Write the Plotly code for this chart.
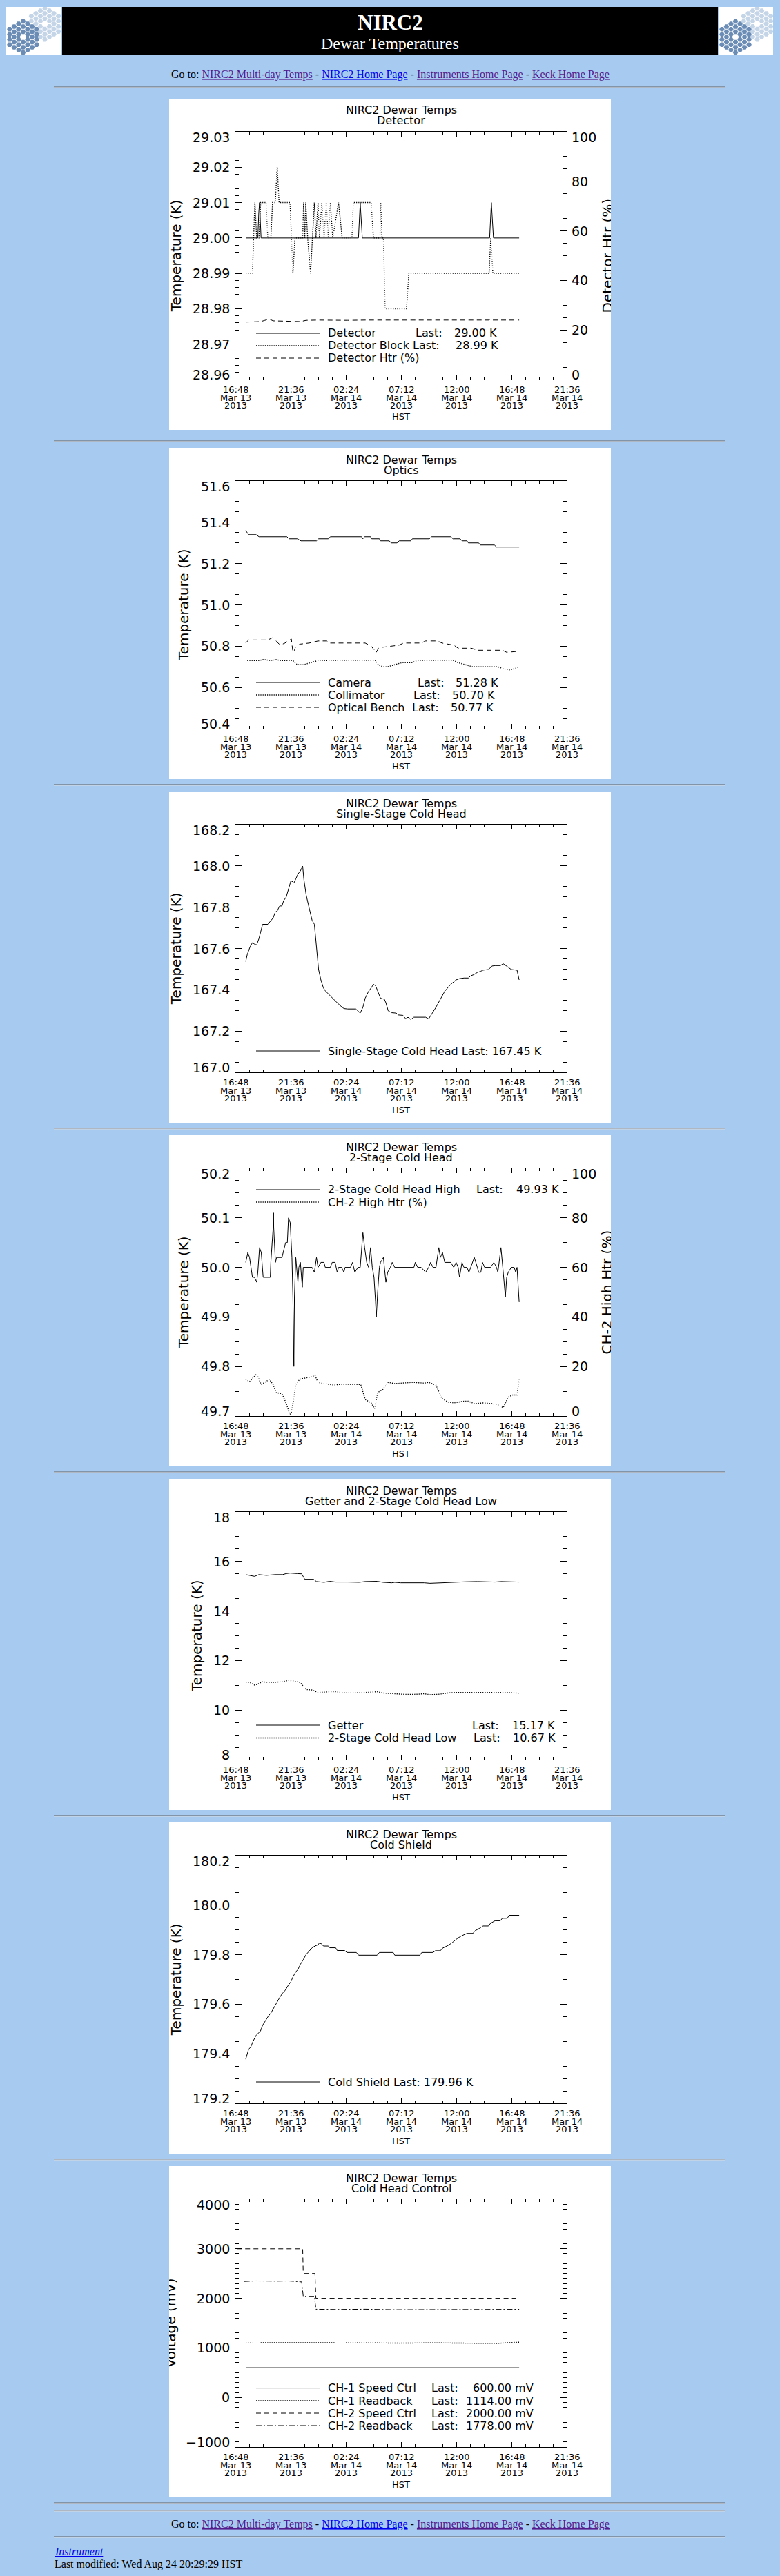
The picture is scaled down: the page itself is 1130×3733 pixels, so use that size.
import plotly.graph_objects as go

# page size in pixels and colours
W, H = 1130, 3733
BG = "#A6CAF0"
SANS = "DejaVu Sans"
SERIF = "Liberation Serif"
PURPLE, BLUE = "#551A8B", "#0000EE"
SOLID, DOT, DASH, DASHDOT = "solid", "1.2px,2px", "7px,5px", "8px,3px,2px,3px"

# shared time axis (HST)
X_START, X_END = "2013-03-13 16:48", "2013-03-14 21:36"
x_tick_vals = ["2013-03-13 16:48", "2013-03-13 21:36", "2013-03-14 02:24", "2013-03-14 07:12",
               "2013-03-14 12:00", "2013-03-14 16:48", "2013-03-14 21:36"]
x_tick_time = ["16:48", "21:36", "02:24", "07:12", "12:00", "16:48", "21:36"]
x_tick_day = ["Mar 13", "Mar 13", "Mar 14", "Mar 14", "Mar 14", "Mar 14", "Mar 14"]
x_tick_year = ["2013"] * 7

# ---------------- Detector ----------------
y1_ticks = [28.96, 28.97, 28.98, 28.99, 29.00, 29.01, 29.02, 29.03]
htr_ticks = [0, 20, 40, 60, 80, 100]
detector = [("13 17:42", 29.000), ("13 18:45", 29.000), ("13 18:50", 29.007), ("13 18:54", 29.010),
            ("13 19:02", 29.000), ("14 03:30", 29.000), ("14 03:39", 29.010), ("14 03:50", 29.000),
            ("14 14:54", 29.000), ("14 15:03", 29.010), ("14 15:14", 29.000), ("14 17:28", 29.000)]
detector_block = [("13 17:42", 28.99), ("13 18:17", 28.99), ("13 18:23", 29.00), ("13 18:30", 29.01),
                  ("13 18:39", 29.00), ("13 18:51", 29.00), ("13 19:00", 29.01), ("13 19:28", 29.01),
                  ("13 19:37", 29.00), ("13 19:53", 29.00), ("13 20:02", 29.01), ("13 20:16", 29.01),
                  ("13 20:26", 29.02), ("13 20:36", 29.01), ("13 21:33", 29.01), ("13 21:48", 28.99),
                  ("13 21:59", 29.00), ("13 22:39", 29.00), ("13 22:44", 29.01), ("13 22:50", 29.00),
                  ("13 22:55", 29.01), ("13 23:05", 29.00), ("13 23:20", 28.99), ("13 23:31", 29.00),
                  ("13 23:40", 29.01), ("13 23:48", 29.00), ("13 23:59", 29.01), ("14 00:06", 29.00),
                  ("14 00:19", 29.01), ("14 00:30", 29.00), ("14 00:42", 29.01), ("14 00:53", 29.00),
                  ("14 01:03", 29.01), ("14 01:16", 29.00), ("14 01:46", 29.01), ("14 02:05", 29.00),
                  ("14 02:56", 29.00), ("14 03:03", 29.01), ("14 04:36", 29.01), ("14 04:48", 29.00),
                  ("14 05:22", 29.00), ("14 05:26", 29.01), ("14 05:33", 29.00), ("14 05:40", 29.00),
                  ("14 05:49", 28.98), ("14 07:40", 28.98), ("14 07:53", 28.99), ("14 14:51", 28.99),
                  ("14 15:00", 29.00), ("14 15:11", 28.99), ("14 17:28", 28.99)]
detector_htr = [("13 17:42", 23.2), ("13 19:00", 23.4), ("13 19:22", 23.9), ("13 19:45", 24.4),
                ("13 20:05", 23.7), ("13 20:54", 23.6), ("13 21:48", 23.3), ("13 22:27", 23.4),
                ("13 22:57", 23.9), ("13 23:59", 24.0), ("14 02:33", 23.9), ("14 03:34", 24.1),
                ("14 04:05", 24.0), ("14 14:51", 24.0), ("14 15:00", 24.4), ("14 15:11", 24.0),
                ("14 17:28", 24.0)]

# ---------------- Optics ----------------
y2_ticks = [50.4, 50.6, 50.8, 51.0, 51.2, 51.4, 51.6]
camera = [("13 17:42", 51.36), ("13 17:57", 51.34), ("13 18:36", 51.34), ("13 18:51", 51.33),
          ("13 21:17", 51.33), ("13 21:28", 51.32), ("13 22:11", 51.32), ("13 22:30", 51.31),
          ("13 23:51", 51.31), ("14 00:02", 51.32), ("14 00:53", 51.32), ("14 01:03", 51.33),
          ("14 03:46", 51.33), ("14 03:53", 51.32), ("14 04:02", 51.33), ("14 04:33", 51.33),
          ("14 04:39", 51.32), ("14 05:19", 51.32), ("14 05:25", 51.31), ("14 06:11", 51.31),
          ("14 06:20", 51.30), ("14 06:51", 51.30), ("14 07:02", 51.31), ("14 08:03", 51.31),
          ("14 08:11", 51.32), ("14 09:40", 51.32), ("14 09:51", 51.33), ("14 11:31", 51.33),
          ("14 11:43", 51.32), ("14 12:20", 51.32), ("14 12:30", 51.31), ("14 12:56", 51.31),
          ("14 13:03", 51.30), ("14 13:57", 51.30), ("14 14:05", 51.29), ("14 15:19", 51.29),
          ("14 15:30", 51.28), ("14 17:28", 51.28)]
collimator = [("13 17:50", 50.73), ("13 18:51", 50.73), ("13 19:14", 50.735), ("13 19:53", 50.73),
              ("13 20:23", 50.735), ("13 20:39", 50.73), ("13 21:48", 50.73), ("13 22:11", 50.71),
              ("13 22:42", 50.71), ("13 23:20", 50.72), ("13 23:59", 50.73), ("14 04:59", 50.73),
              ("14 05:14", 50.71), ("14 05:37", 50.70), ("14 06:00", 50.70), ("14 06:39", 50.71),
              ("14 07:17", 50.72), ("14 08:11", 50.72), ("14 08:34", 50.73), ("14 11:47", 50.73),
              ("14 12:10", 50.72), ("14 12:48", 50.71), ("14 13:27", 50.70), ("14 15:37", 50.70),
              ("14 16:08", 50.69), ("14 16:39", 50.685), ("14 17:02", 50.69), ("14 17:28", 50.70)]
optical_bench = [("13 17:42", 50.815), ("13 17:57", 50.83), ("13 18:43", 50.83), ("13 19:07", 50.83),
                 ("13 19:37", 50.83), ("13 20:00", 50.84), ("13 20:16", 50.83), ("13 20:36", 50.81),
                 ("13 20:54", 50.81), ("13 21:07", 50.815), ("13 21:40", 50.835), ("13 21:48", 50.77),
                 ("13 21:56", 50.78), ("13 22:03", 50.80), ("13 22:27", 50.81), ("13 23:13", 50.815),
                 ("13 23:59", 50.825), ("14 00:45", 50.825), ("14 01:00", 50.815), ("14 04:05", 50.815),
                 ("14 04:36", 50.80), ("14 05:03", 50.77), ("14 05:14", 50.79), ("14 05:37", 50.795),
                 ("14 07:02", 50.805), ("14 07:25", 50.815), ("14 08:57", 50.815), ("14 09:20", 50.825),
                 ("14 10:22", 50.825), ("14 10:45", 50.815), ("14 11:23", 50.81), ("14 11:47", 50.805),
                 ("14 12:10", 50.79), ("14 13:19", 50.79), ("14 13:50", 50.78), ("14 16:00", 50.78),
                 ("14 16:23", 50.77), ("14 17:28", 50.775)]

# ---------------- Single-Stage Cold Head ----------------
y3_ticks = [167.0, 167.2, 167.4, 167.6, 167.8, 168.0, 168.2]
single_stage = [("13 17:42", 167.537), ("13 17:50", 167.571), ("13 18:05", 167.609), ("13 18:17", 167.628),
                ("13 18:28", 167.621), ("13 18:39", 167.617), ("13 18:51", 167.648), ("13 19:10", 167.717),
                ("13 19:37", 167.717), ("13 20:05", 167.748), ("13 20:16", 167.776), ("13 20:26", 167.782),
                ("13 20:39", 167.806), ("13 20:51", 167.806), ("13 21:00", 167.832), ("13 21:13", 167.849),
                ("13 21:25", 167.887), ("13 21:37", 167.926), ("13 21:43", 167.926), ("13 21:53", 167.917),
                ("13 22:03", 167.937), ("13 22:14", 167.960), ("13 22:27", 167.976), ("13 22:39", 167.999),
                ("13 22:45", 167.937), ("13 22:57", 167.860), ("13 23:08", 167.815), ("13 23:19", 167.771),
                ("13 23:28", 167.737), ("13 23:40", 167.717), ("13 23:47", 167.648), ("13 23:54", 167.559),
                ("14 00:02", 167.498), ("14 00:14", 167.448), ("14 00:27", 167.409), ("14 00:37", 167.395),
                ("14 00:57", 167.376), ("14 01:16", 167.357), ("14 01:39", 167.337), ("14 01:59", 167.320),
                ("14 02:14", 167.309), ("14 02:33", 167.307), ("14 03:16", 167.307), ("14 03:39", 167.287),
                ("14 03:53", 167.315), ("14 04:05", 167.359), ("14 04:23", 167.393), ("14 04:36", 167.409),
                ("14 04:48", 167.426), ("14 04:59", 167.420), ("14 05:10", 167.393), ("14 05:25", 167.359),
                ("14 05:45", 167.354), ("14 05:53", 167.337), ("14 06:05", 167.298), ("14 06:23", 167.289),
                ("14 06:47", 167.287), ("14 06:57", 167.278), ("14 07:22", 167.276), ("14 07:37", 167.259),
                ("14 07:48", 167.267), ("14 08:03", 167.256), ("14 08:19", 167.267), ("14 09:20", 167.267),
                ("14 09:36", 167.259), ("14 09:51", 167.281), ("14 10:14", 167.315), ("14 10:37", 167.354),
                ("14 11:00", 167.393), ("14 11:31", 167.426), ("14 11:59", 167.448), ("14 12:17", 167.454),
                ("14 12:40", 167.457), ("14 13:03", 167.457), ("14 13:16", 167.468), ("14 13:31", 167.473),
                ("14 13:50", 167.484), ("14 14:08", 167.490), ("14 14:20", 167.495), ("14 14:48", 167.498),
                ("14 15:07", 167.515), ("14 15:22", 167.517), ("14 15:50", 167.517), ("14 16:05", 167.526),
                ("14 16:16", 167.520), ("14 16:31", 167.509), ("14 16:47", 167.498), ("14 17:17", 167.495),
                ("14 17:28", 167.448)]

# ---------------- 2-Stage Cold Head ----------------
y4_ticks = [49.7, 49.8, 49.9, 50.0, 50.1, 50.2]
ch2_high = [("13 17:42", 50.01), ("13 17:53", 50.03), ("13 18:02", 50.02), ("13 18:17", 49.98),
            ("13 18:28", 49.98), ("13 18:39", 49.97), ("13 18:45", 49.99), ("13 18:54", 50.04),
            ("13 19:03", 50.03), ("13 19:13", 49.98), ("13 19:50", 49.98), ("13 19:53", 50.01),
            ("13 20:05", 50.08), ("13 20:07", 50.11), ("13 20:08", 50.08), ("13 20:17", 50.01),
            ("13 20:23", 50.02), ("13 20:51", 50.02), ("13 21:10", 50.05), ("13 21:19", 50.05),
            ("13 21:25", 50.10), ("13 21:34", 50.09), ("13 21:43", 50.02), ("13 21:48", 49.94),
            ("13 21:53", 49.80), ("13 21:56", 49.94), ("13 22:03", 50.02), ("13 22:14", 49.97),
            ("13 22:19", 50.00), ("13 22:27", 50.01), ("13 22:31", 49.99), ("13 22:37", 49.96),
            ("13 22:42", 50.00), ("13 22:50", 50.00), ("13 23:28", 50.00), ("13 23:40", 49.99),
            ("13 23:51", 50.02), ("13 23:59", 50.00), ("14 00:14", 50.01), ("14 00:30", 50.01),
            ("14 00:37", 50.00), ("14 01:03", 50.00), ("14 01:13", 50.01), ("14 01:28", 50.01),
            ("14 01:39", 49.99), ("14 01:46", 50.00), ("14 02:02", 50.00), ("14 02:14", 49.99),
            ("14 02:20", 50.00), ("14 02:48", 50.00), ("14 02:59", 50.01), ("14 03:11", 49.99),
            ("14 03:27", 50.00), ("14 03:39", 50.00), ("14 03:53", 50.07), ("14 04:02", 50.04),
            ("14 04:13", 50.01), ("14 04:23", 50.00), ("14 04:33", 50.04), ("14 04:42", 50.00),
            ("14 04:51", 49.98), ("14 04:59", 49.93), ("14 05:03", 49.90), ("14 05:10", 49.95),
            ("14 05:19", 50.00), ("14 05:25", 50.01), ("14 05:40", 50.02), ("14 05:53", 49.97),
            ("14 06:02", 49.99), ("14 06:16", 50.00), ("14 06:26", 50.01), ("14 06:39", 50.00),
            ("14 08:19", 50.00), ("14 08:26", 50.01), ("14 08:39", 50.00), ("14 08:57", 50.00),
            ("14 09:20", 49.99), ("14 09:36", 50.00), ("14 09:46", 50.01), ("14 09:59", 50.00),
            ("14 10:14", 50.00), ("14 10:29", 50.04), ("14 10:37", 50.02), ("14 10:48", 50.03),
            ("14 11:00", 50.01), ("14 11:31", 50.01), ("14 11:47", 50.00), ("14 11:59", 50.01),
            ("14 12:10", 50.00), ("14 12:17", 49.98), ("14 12:30", 50.01), ("14 12:40", 50.00),
            ("14 12:56", 50.00), ("14 13:06", 49.99), ("14 13:16", 50.00), ("14 13:34", 50.02),
            ("14 13:50", 50.00), ("14 13:57", 49.99), ("14 14:08", 49.99), ("14 14:17", 50.01),
            ("14 14:28", 50.00), ("14 14:59", 50.00), ("14 15:16", 50.01), ("14 15:30", 50.00),
            ("14 15:37", 49.99), ("14 15:53", 50.04), ("14 16:05", 49.99), ("14 16:16", 49.94),
            ("14 16:23", 49.98), ("14 16:31", 49.99), ("14 16:47", 50.00), ("14 17:02", 50.00),
            ("14 17:10", 49.99), ("14 17:17", 50.00), ("14 17:28", 49.93)]
ch2_htr = [("13 17:42", 14.8), ("13 18:02", 13.9), ("13 18:39", 17.0), ("13 19:03", 12.7),
           ("13 19:45", 14.8), ("13 20:05", 12.7), ("13 20:20", 9.5), ("13 20:51", 9.0),
           ("13 21:10", 5.7), ("13 21:33", 0.6), ("13 21:40", 1.5), ("13 21:53", 7.1),
           ("13 22:03", 12.7), ("13 22:23", 14.8), ("13 22:42", 15.2), ("13 23:20", 15.7),
           ("13 23:43", 16.4), ("13 23:59", 13.6), ("14 00:30", 13.1), ("14 01:23", 12.5),
           ("14 02:02", 12.9), ("14 03:03", 12.9), ("14 03:42", 12.7), ("14 04:05", 6.7),
           ("14 04:36", 5.3), ("14 04:54", 3.0), ("14 05:10", 9.5), ("14 05:37", 10.7),
           ("14 06:05", 13.6), ("14 06:39", 13.1), ("14 07:25", 13.3), ("14 08:11", 13.6),
           ("14 09:13", 13.3), ("14 09:36", 13.6), ("14 10:14", 12.5), ("14 10:45", 7.1),
           ("14 11:16", 5.7), ("14 11:47", 5.3), ("14 12:17", 5.7), ("14 12:40", 6.0),
           ("14 13:03", 6.0), ("14 13:34", 5.0), ("14 14:20", 5.3), ("14 15:07", 5.0),
           ("14 15:37", 4.5), ("14 16:05", 3.4), ("14 16:31", 7.6), ("14 16:54", 8.5),
           ("14 17:17", 8.5), ("14 17:28", 14.6)]

# ---------------- Getter and 2-Stage Cold Head Low ----------------
y5_ticks = [8, 10, 12, 14, 16, 18]
getter = [("13 17:42", 15.47), ("13 18:05", 15.44), ("13 18:28", 15.40), ("13 18:51", 15.47),
          ("13 19:30", 15.44), ("13 20:16", 15.47), ("13 20:54", 15.47), ("13 21:13", 15.51),
          ("13 21:33", 15.53), ("13 22:11", 15.51), ("13 22:34", 15.50), ("13 22:50", 15.28),
          ("13 23:36", 15.28), ("13 23:51", 15.19), ("14 00:30", 15.16), ("14 01:00", 15.20),
          ("14 01:31", 15.17), ("14 02:33", 15.17), ("14 03:34", 15.16), ("14 04:05", 15.19),
          ("14 05:07", 15.20), ("14 05:37", 15.16), ("14 06:23", 15.14), ("14 06:39", 15.16),
          ("14 07:10", 15.14), ("14 09:13", 15.14), ("14 09:43", 15.12), ("14 10:45", 15.14),
          ("14 11:47", 15.17), ("14 12:48", 15.18), ("14 13:50", 15.19), ("14 14:20", 15.18),
          ("14 15:22", 15.17), ("14 15:53", 15.19), ("14 16:54", 15.19), ("14 17:28", 15.17)]
ch2_low = [("13 17:42", 11.11), ("13 18:05", 11.11), ("13 18:28", 11.01), ("13 18:51", 11.07),
           ("13 19:07", 11.14), ("13 19:53", 11.11), ("13 20:23", 11.13), ("13 20:54", 11.14),
           ("13 21:25", 11.20), ("13 21:56", 11.17), ("13 22:27", 11.11), ("13 22:42", 10.97),
           ("13 22:57", 10.83), ("13 23:28", 10.81), ("13 23:59", 10.71), ("14 01:00", 10.74),
           ("14 01:31", 10.74), ("14 02:33", 10.69), ("14 03:34", 10.69), ("14 04:05", 10.71),
           ("14 05:07", 10.74), ("14 05:37", 10.69), ("14 06:39", 10.66), ("14 07:40", 10.63),
           ("14 08:42", 10.64), ("14 09:13", 10.66), ("14 09:43", 10.62), ("14 10:29", 10.64),
           ("14 11:16", 10.69), ("14 11:47", 10.71), ("14 12:48", 10.71), ("14 13:50", 10.71),
           ("14 14:51", 10.69), ("14 15:37", 10.71), ("14 16:23", 10.71), ("14 17:28", 10.68)]

# ---------------- Cold Shield ----------------
y6_ticks = [179.2, 179.4, 179.6, 179.8, 180.0, 180.2]
cold_shield = [("13 17:42", 179.378), ("13 17:50", 179.399), ("13 17:57", 179.418), ("13 18:08", 179.427),
               ("13 18:20", 179.450), ("13 18:36", 179.474), ("13 18:59", 179.492), ("13 19:10", 179.515),
               ("13 19:25", 179.534), ("13 19:40", 179.552), ("13 19:53", 179.564), ("13 20:05", 179.580),
               ("13 20:23", 179.608), ("13 20:39", 179.627), ("13 20:54", 179.645), ("13 21:07", 179.655),
               ("13 21:25", 179.678), ("13 21:37", 179.690), ("13 21:48", 179.710), ("13 22:03", 179.731),
               ("13 22:14", 179.740), ("13 22:27", 179.761), ("13 22:42", 179.780), ("13 22:57", 179.801),
               ("13 23:10", 179.812), ("13 23:28", 179.828), ("13 23:43", 179.835), ("13 23:59", 179.840),
               ("14 00:06", 179.847), ("14 00:17", 179.844), ("14 00:27", 179.835), ("14 00:53", 179.835),
               ("14 01:00", 179.828), ("14 01:31", 179.828), ("14 01:39", 179.817), ("14 02:17", 179.817),
               ("14 02:30", 179.809), ("14 03:19", 179.809), ("14 03:31", 179.798), ("14 05:07", 179.798),
               ("14 05:19", 179.809), ("14 06:31", 179.809), ("14 06:39", 179.798), ("14 08:50", 179.798),
               ("14 09:00", 179.809), ("14 09:59", 179.809), ("14 10:11", 179.816), ("14 10:37", 179.816),
               ("14 10:48", 179.826), ("14 11:08", 179.833), ("14 11:23", 179.840), ("14 11:39", 179.849),
               ("14 11:54", 179.859), ("14 12:10", 179.868), ("14 12:30", 179.877), ("14 12:56", 179.886),
               ("14 13:27", 179.886), ("14 13:37", 179.896), ("14 14:02", 179.907), ("14 14:20", 179.916),
               ("14 14:48", 179.916), ("14 14:59", 179.927), ("14 15:22", 179.937), ("14 15:50", 179.937),
               ("14 16:00", 179.947), ("14 16:26", 179.947), ("14 16:36", 179.959), ("14 17:28", 179.959)]

# ---------------- Cold Head Control ----------------
y7_ticks = [-1000, 0, 1000, 2000, 3000, 4000]
ch1_speed = [("13 17:42", 600), ("14 17:28", 600)]
ch1_readback = [("13 17:42", 1100), ("13 18:17", 1100), ("13 18:30", None), ("13 19:00", 1105),
                ("13 21:30", 1108), ("13 23:59", 1110), ("14 01:31", 1105), ("14 01:45", None),
                ("14 02:25", 1105), ("14 05:00", 1100), ("14 07:00", 1095), ("14 10:00", 1100),
                ("14 13:00", 1100), ("14 15:30", 1090), ("14 17:28", 1114)]
ch2_speed = [("13 16:56", 3000), ("13 22:39", 3000), ("13 22:42", 2500), ("13 23:43", 2500),
             ("13 23:48", 2000), ("14 17:10", 2000)]
ch2_readback = [("13 17:34", 2340), ("13 18:36", 2350), ("13 20:23", 2345), ("13 21:25", 2350),
                ("13 22:34", 2330), ("13 22:42", 2040), ("13 23:40", 2040), ("13 23:48", 1780),
                ("14 01:31", 1775), ("14 04:05", 1780), ("14 06:39", 1770), ("14 09:13", 1775),
                ("14 11:47", 1770), ("14 14:20", 1775), ("14 17:28", 1778)]


fig = go.Figure()
annotations, shapes, layout = [], [], {}


def px(x):
    return x / W


def py(y):
    return 1 - y / H


def label(x, y, s, size, family=SANS, color="black", xref="paper", yref="paper",
          xanchor="center", yanchor="middle", **kw):
    annotations.append(dict(x=x, y=y, text=s, xref=xref, yref=yref, xanchor=xanchor,
                            yanchor=yanchor, showarrow=False, borderpad=0,
                            font=dict(family=family, size=size, color=color), **kw))


def cover(x0, y0, w, h):
    # blue patch that hides the part of a title running off the plot image
    annotations.append(dict(x=px(x0), y=py(y0), xref="paper", yref="paper", xanchor="left",
                            yanchor="top", text="\u00a0", showarrow=False, width=w, height=h,
                            bgcolor=BG, borderpad=0, borderwidth=0))


def hr(y):
    for dy, c in ((0, "#5f5f5f"), (1, "#dcdcdc")):
        shapes.append(dict(type="line", xref="paper", yref="paper", x0=px(78), x1=px(1050),
                           y0=py(y + dy), y1=py(y + dy), line=dict(color=c, width=1)))


def series(pairs):
    return ["2013-03-" + t for t, v in pairs], [v for t, v in pairs]


def tick_labels(n, sid, ticks, fmt, x, anchor):
    for i, v in enumerate(ticks):
        ya, shift = "middle", 0
        if i == 0:
            ya, shift = "bottom", -4.5
        elif i == len(ticks) - 1:
            ya, shift = "top", 4
        label(px(x), v, fmt(v), 19, xanchor=anchor, yanchor=ya, yref="y" + sid, yshift=shift)


def add_panel(n, top, subtitle, ytitle, ytitle_x, yticks, fmt, yminor, lines, legend, right=None):
    sid = "" if n == 1 else str(n)
    L, T = 245, top
    shapes.append(dict(type="rect", xref="paper", yref="paper", layer="below",
                       x0=px(L), x1=px(L + 640), y0=py(T + 480), y1=py(T),
                       fillcolor="white", line=dict(width=0)))
    base = dict(showline=True, linecolor="black", linewidth=1, ticks="inside", tickcolor="black",
                tickwidth=1, showgrid=False, zeroline=False, showticklabels=False, fixedrange=True)
    layout["xaxis" + sid] = dict(base, domain=[px(L + 96), px(L + 576)], anchor="y" + sid,
                                 type="date", range=[X_START, X_END], tick0=X_START,
                                 dtick=4.8 * 3600 * 1000, ticklen=7, mirror="ticks",
                                 minor=dict(tick0=X_START, dtick=72 * 60 * 1000, ticks="inside",
                                            ticklen=4, tickcolor="black", showgrid=False))
    eps = (yticks[-1] - yticks[0]) * 1e-6
    layout["yaxis" + sid] = dict(base, domain=[py(T + 407), py(T + 48)], anchor="x" + sid,
                                 range=[yticks[0] - eps, yticks[-1] + eps], tick0=yticks[0],
                                 dtick=yticks[1] - yticks[0], ticklen=10,
                                 mirror=False if right else "ticks",
                                 minor=dict(tick0=yticks[0], dtick=yminor, ticks="inside",
                                            ticklen=5, tickcolor="black", showgrid=False))
    if right:
        rid = right["id"]
        rt = right["ticks"]
        layout["yaxis" + rid] = dict(base, overlaying="y" + sid, side="right", anchor="x" + sid,
                                     range=[rt[0] - 1e-4, rt[-1] + 1e-4], tick0=rt[0],
                                     dtick=rt[1] - rt[0], ticklen=10,
                                     minor=dict(tick0=rt[0], dtick=5, ticks="inside", ticklen=5,
                                                tickcolor="black", showgrid=False))

    for pairs, dash, on_right in lines:
        xs, ys = series(pairs)
        fig.add_trace(go.Scatter(x=xs, y=ys, mode="lines", connectgaps=False, hoverinfo="skip",
                                 line=dict(color="black", width=1.4 if dash == DOT else 1, dash=dash),
                                 xaxis="x" + sid, yaxis="y" + (right["id"] if on_right else sid)))

    # titles
    label(px(L + 336), py(T + 17), "NIRC2 Dewar Temps", 16)
    label(px(L + 336), py(T + 32), subtitle, 16)
    label(px(L + ytitle_x), py(T + 227.5), ytitle, 20, textangle=-90)

    # axis labels
    tick_labels(n, sid, yticks, fmt, L + 89, "right")
    for xv, a, b, c in zip(x_tick_vals, x_tick_time, x_tick_day, x_tick_year):
        for s, dy in ((a, 421.3), (b, 433.0), (c, 444.7)):
            label(xv, py(T + dy), s, 13, xref="x" + sid)
    label(px(L + 336), py(T + 461), "HST", 13)
    if right:
        tick_labels(n, right["id"], right["ticks"], lambda v: f"{v}", L + 582, "left")
        label(px(L + 634), py(T + 227.5), right["title"], 20, textangle=-90)
        cover(L + 640, T + 90, 25, 280)
    if ytitle_x < 5:
        cover(L - 25, T + 90, 25, 280)

    # legend drawn inside the plot box
    for row, dash, name, last_x, value, value_x, value_anchor in legend:
        shapes.append(dict(type="line", xref="paper", yref="paper", x0=px(L + 126), x1=px(L + 218),
                           y0=py(T + row), y1=py(T + row),
                           line=dict(color="black", width=1.4 if dash == DOT else 1, dash=dash)))
        label(px(L + 229), py(T + row), name, 16, xanchor="left")
        if last_x is not None:
            label(px(L + last_x), py(T + row), "Last:", 16, xanchor="left")
            label(px(L + value_x), py(T + row), value, 16, xanchor=value_anchor)


# ---------------- page header ----------------
shapes.append(dict(type="rect", xref="paper", yref="paper", layer="below", x0=px(90), x1=px(1040),
                   y0=py(79), y1=py(10), fillcolor="black", line=dict(width=0)))
label(px(565), py(32), "<b>NIRC2</b>", 31, family=SERIF, color="white")
label(px(565), py(63), "Dewar Temperatures", 24, family=SERIF, color="white")


# Keck segmented-mirror logos in the header corners
def mirror_cells(cx, cy, s):
    xs, ys = [], []
    for q in range(-3, 4):
        for r in range(-3, 4):
            if 1 <= max(abs(q), abs(r), abs(q + r)) <= 3:
                xs.append(cx + 1.5 * s * q)
                ys.append(cy + 3 ** 0.5 * s * (r + q / 2))
    return xs, ys


for i, x0 in enumerate((9, 1041)):
    aid = str(10 + i)
    layout["xaxis" + aid] = dict(domain=[px(x0), px(x0 + 79)], range=[0, 79], visible=False,
                                 anchor="y" + aid, fixedrange=True)
    layout["yaxis" + aid] = dict(domain=[py(79), py(10)], range=[0, 69], visible=False,
                                 anchor="x" + aid, fixedrange=True)
    for (cx, cy), col in (((56, 44.5), "#C5D5E8"), ((24.5, 25.5), "#6A8CB5")):
        hx, hy = mirror_cells(cx, cy, 4.35)
        fig.add_trace(go.Scatter(x=hx, y=hy, mode="markers", hoverinfo="skip",
                                 marker=dict(symbol="hexagon2", size=7.6, color=col, line=dict(width=0)),
                                 xaxis="x" + aid, yaxis="y" + aid))


def link(s, color):
    return f'<span style="color:{color};text-decoration:underline">{s}</span>'


goto = ("Go to: " + link("NIRC2 Multi-day Temps", PURPLE) + " - " + link("NIRC2 Home Page", BLUE)
        + " - " + link("Instruments Home Page", PURPLE) + " - " + link("Keck Home Page", PURPLE))
label(px(565), py(108), goto, 16, family=SERIF)

for y in (126, 639, 1137, 1635, 2133, 2631, 3129, 3627, 3638, 3676):
    hr(y)

# ---------------- the seven plots ----------------
dec2 = lambda v: f"{v:.2f}"
dec1 = lambda v: f"{v:.1f}"
whole = lambda v: f"{v:d}".replace("-", "\u2212")

add_panel(1, 143, "Detector", "Temperature (K)", 9.7, y1_ticks, dec2, 0.002,
          [(detector, SOLID, False), (detector_block, DOT, False), (detector_htr, DASH, True)],
          [(340, SOLID, "Detector", 356, "29.00 K", 412, "left"),
           (358, DOT, "Detector Block", 352, "28.99 K", 414, "left"),
           (376, DASH, "Detector Htr (%)", None, None, None, None)],
          right=dict(id="8", ticks=htr_ticks, title="Detector Htr (%)"))

add_panel(2, 649, "Optics", "Temperature (K)", 21.6, y2_ticks, dec1, 0.05,
          [(camera, SOLID, False), (collimator, DOT, False), (optical_bench, DASH, False)],
          [(340, SOLID, "Camera", 359, "51.28 K", 414, "left"),
           (358, DOT, "Collimator", 353, "50.70 K", 409, "left"),
           (376, DASH, "Optical Bench", 351, "50.77 K", 407, "left")])

add_panel(3, 1147, "Single-Stage Cold Head", "Temperature (K)", 9.7, y3_ticks, dec1, 0.05,
          [(single_stage, SOLID, False)],
          [(376, SOLID, "Single-Stage Cold Head Last: 167.45 K", None, None, None, None)])

add_panel(4, 1645, "2-Stage Cold Head", "Temperature (K)", 21.6, y4_ticks, dec1, 0.025,
          [(ch2_high, SOLID, False), (ch2_htr, DOT, True)],
          [(79, SOLID, "2-Stage Cold Head High", 444, "49.93 K", 502, "left"),
           (97, DOT, "CH-2 High Htr (%)", None, None, None, None)],
          right=dict(id="9", ticks=htr_ticks, title="CH-2 High Htr (%)"))

add_panel(5, 2143, "Getter and 2-Stage Cold Head Low", "Temperature (K)", 39.6, y5_ticks, whole, 0.5,
          [(getter, SOLID, False), (ch2_low, DOT, False)],
          [(357, SOLID, "Getter", 438, "15.17 K", 496, "left"),
           (375.5, DOT, "2-Stage Cold Head Low", 440, "10.67 K", 497, "left")])

add_panel(6, 2641, "Cold Shield", "Temperature (K)", 9.7, y6_ticks, dec1, 0.05,
          [(cold_shield, SOLID, False)],
          [(376, SOLID, "Cold Shield Last: 179.96 K", None, None, None, None)])

add_panel(7, 3139, "Cold Head Control", "Voltage (mV)", 1, y7_ticks, whole, 100,
          [(ch1_speed, SOLID, False), (ch1_readback, DOT, False),
           (ch2_speed, DASH, False), (ch2_readback, DASHDOT, False)],
          [(321.6, SOLID, "CH-1 Speed Ctrl", 379, "600.00 mV", 528.5, "right"),
           (340, DOT, "CH-1 Readback", 379, "1114.00 mV", 528.5, "right"),
           (358, DASH, "CH-2 Speed Ctrl", 379, "2000.00 mV", 528.5, "right"),
           (376, DASHDOT, "CH-2 Readback", 379, "1778.00 mV", 528.5, "right")])

# ---------------- footer ----------------
label(px(565), py(3658), goto, 16, family=SERIF)
label(px(78), py(3697), "<i>" + link("Instrument", BLUE) + "</i>", 16, family=SERIF, xanchor="left")
label(px(78), py(3716), "Last modified: Wed Aug 24 20:29:29 HST", 16, family=SERIF, xanchor="left")

fig.update_layout(width=W, height=H, autosize=False, margin=dict(l=0, r=0, t=0, b=0, pad=0),
                  paper_bgcolor=BG, plot_bgcolor="white", showlegend=False, hovermode=False,
                  shapes=shapes, annotations=annotations, **layout)

fig.write_html("out.html", config={"displayModeBar": False, "staticPlot": True},
               post_script="document.body.style.margin='0';")
